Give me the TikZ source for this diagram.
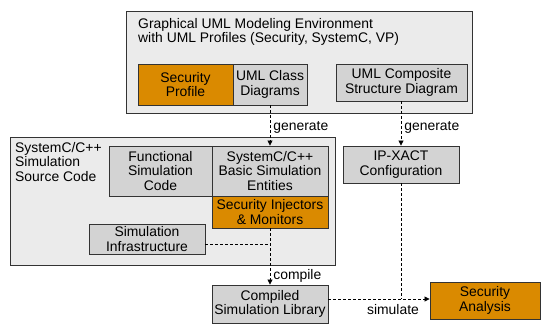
\documentclass[tikz,border=0pt]{standalone}
\usepackage{fontspec}
\setmainfont{Liberation Sans}
\usetikzlibrary{arrows.meta}
\definecolor{orng}{HTML}{DA8A00}
\definecolor{gbox}{HTML}{D3D3D3}
\definecolor{lbox}{HTML}{EBEBEB}
\definecolor{edge}{HTML}{333333}
\begin{document}
\begin{tikzpicture}[x=1pt,y=-1pt,
  every node/.style={font=\fontsize{13.9}{14.5}\selectfont, text=black},
  frame/.style={draw=edge, line width=0.9pt, fill=lbox, inner sep=0pt},
  gblk/.style={draw=edge, line width=0.9pt, fill=gbox, align=center, inner sep=0pt},
  oblk/.style={draw=edge, line width=0.9pt, fill=orng, align=center, inner sep=0pt},
  flow/.style={draw=black, line width=0.8pt, dash pattern=on 3pt off 2pt},
  flowarr/.style={flow, -{Triangle[length=5pt,width=5pt]}},
  lbl/.style={font=\fontsize{13.9}{14.5}\selectfont, inner sep=0pt}
]
\useasboundingbox (0,0) rectangle (541,325);
% top environment
\node[frame, minimum width=346pt, minimum height=102pt] (env) at (299,62) {};
\node[lbl, anchor=north west, align=left] (envt) at (138,18) {Graphical UML Modeling Environment\\with UML Profiles (Security, SystemC, VP)};
\node[oblk, minimum width=95pt, minimum height=41pt] (sp) at (185.5,84.5) {Security\\Profile};
\node[gblk, minimum width=74pt, minimum height=41pt] (ucd) at (270,84.5) {UML Class\\Diagrams};
\node[gblk, minimum width=131pt, minimum height=37pt] (ucs) at (401.5,82.5) {UML Composite\\Structure Diagram};
% systemc source
\node[frame, minimum width=325pt, minimum height=128pt] (src) at (173,201) {};
\node[lbl, anchor=north west, align=left] (srct) at (15,142) {SystemC/C++\\Simulation\\Source Code};
\node[gblk, minimum width=103pt, minimum height=50pt] (fsc) at (160.5,171) {Functional\\Simulation\\Code};
\node[gblk, minimum width=116pt, minimum height=50pt] (bse) at (270,171) {SystemC/C++\\Basic Simulation\\Entities};
\node[oblk, minimum width=116pt, minimum height=32pt] (sim) at (270,212) {Security Injectors\\\& Monitors};
\node[gblk, minimum width=116pt, minimum height=30pt] (inf) at (147,239) {Simulation\\Infrastructure};
% right column
\node[gblk, minimum width=116pt, minimum height=37pt] (ipx) at (401,164.5) {IP-XACT\\Configuration};
\node[gblk, minimum width=116pt, minimum height=38pt] (csl) at (270,304) {Compiled\\Simulation Library};
\node[oblk, minimum width=110pt, minimum height=37pt] (sa) at (485,300.5) {Security\\Analysis};
% connectors
\draw[flowarr] (ucd.south) -- node[lbl, right=3pt, pos=0.55] {generate} (bse.north);
\draw[flowarr] (ucs.south -| ipx.north) -- node[lbl, right=3pt, pos=0.58] {generate} (ipx.north);
\draw[flowarr] (sim.south) -- node[lbl, right=3pt, pos=0.85] {compile} (csl.north);
\coordinate (mj) at (sim.south |- 0,244);
\draw[flow] (inf.east |- mj) -- (mj);
\coordinate (sj) at (ipx.south |- 0,299);
\draw[flowarr] (csl.east |- sj) -- (sa.west |- sj);
\draw[flow] (ipx.south) -- (sj);
\node[lbl] (simlbl) at (393,310) {simulate};
\end{tikzpicture}
\end{document}
